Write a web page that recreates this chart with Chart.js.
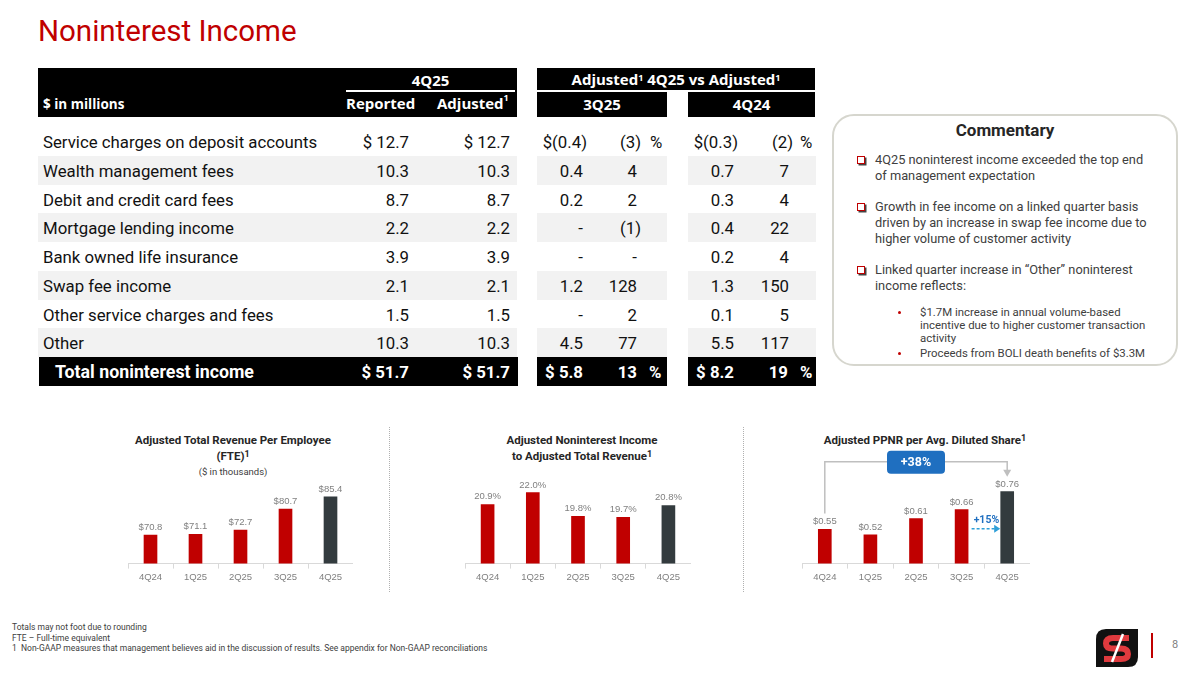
<!DOCTYPE html>
<html>
<head>
<meta charset="utf-8">
<script src="https://cdn.jsdelivr.net/npm/chart.js@4.4.1/dist/chart.umd.min.js"></script>
<style>
  body { margin: 0; background: #fff; }
  #slide { position: relative; width: 1200px; height: 675px; overflow: hidden; font-family: Roboto, "Liberation Sans", sans-serif; color: #111; }
  .abs { position: absolute; }
  .title { left: 38px; top: 14px; font-size: 29.5px; color: #c00000; }
  .hdr { background: #000; color: #fff; font-weight: bold; font-family: "Open Sans", sans-serif; }
  .htxt { position: absolute; color: #fff; font-weight: bold; font-family: "Open Sans", sans-serif; font-size: 15px; white-space: nowrap; }
  .cell { position: absolute; white-space: nowrap; }
  .rowbg { position: absolute; height: 28.75px; }
  sup { font-size: 9px; vertical-align: top; position: relative; top: -2px; }
  .ctitle { position: absolute; text-align: center; font-weight: bold; font-size: 11.5px; color: #262626; line-height: 16px; }
  .sep { position: absolute; top: 427px; height: 165px; border-left: 1.5px dotted #b0b0b0; }
  .cbox { left: 832px; top: 114px; width: 346px; height: 252px; border: 2.5px solid #d6d6ce; border-radius: 22px; box-sizing: border-box; }
  .bul { position: absolute; left: 875px; font-size: 12.8px; color: #404040; line-height: 16px; width: 278px; }
  .sq { position: absolute; left: -18px; top: 4px; width: 6px; height: 6px; border: 1.5px solid #c00000; box-shadow: 1.5px 1.5px 0 #444; background: #fff; }
  .sub { position: absolute; left: 920px; font-size: 11.4px; color: #404040; line-height: 13px; width: 234px; }
  .dot { position: absolute; left: -22px; top: 5px; width: 3px; height: 3px; background: #c00000; border-radius: 50%; }
  .foot { left: 12px; font-size: 8.5px; color: #404040; white-space: nowrap; }
</style>
</head>
<body>
<div id="slide">
  <div class="abs title">Noninterest Income</div>

  <!-- table header -->
  <div class="abs hdr" style="left:38px;top:68px;width:479px;height:49px;"></div>
  <div class="abs" style="left:346px;top:90px;width:169px;height:1.5px;background:#fff;"></div>
  <div class="htxt" style="left:346px;top:70px;width:169px;text-align:center;">4Q25</div>
  <div class="htxt" style="left:43px;top:95px;font-size:13.5px;">$ in millions</div>
  <div class="htxt" style="left:346px;top:93px;">Reported</div>
  <div class="htxt" style="left:437px;top:93px;">Adjusted<sup>1</sup></div>

  <div class="abs hdr" style="left:537px;top:68px;width:278px;height:22px;text-align:center;font-size:15px;line-height:23px;">Adjusted<sup>1</sup> 4Q25 vs Adjusted<sup>1</sup></div>
  <div class="abs hdr" style="left:537px;top:92px;width:130px;height:25px;text-align:center;font-size:15px;line-height:25px;">3Q25</div>
  <div class="abs hdr" style="left:688px;top:92px;width:127px;height:25px;text-align:center;font-size:15px;line-height:25px;">4Q24</div>

  <div id="tbl"></div>

  <!-- commentary -->
  <div class="abs cbox"></div>
  <div class="abs" style="left:832px;top:120px;width:346px;text-align:center;font-weight:bold;font-size:17px;color:#262626;">Commentary</div>
  <div class="bul" style="top:152px;"><span class="sq"></span>4Q25 noninterest income exceeded the top end of management expectation</div>
  <div class="bul" style="top:199px;"><span class="sq"></span>Growth in fee income on a linked quarter basis driven by an increase in swap fee income due to higher volume of customer activity</div>
  <div class="bul" style="top:262px;"><span class="sq"></span>Linked quarter increase in &ldquo;Other&rdquo; noninterest income reflects:</div>
  <div class="sub" style="top:306px;"><span class="dot"></span>$1.7M increase in annual volume-based incentive due to higher customer transaction activity</div>
  <div class="sub" style="top:347px;"><span class="dot"></span>Proceeds from BOLI death benefits of $3.3M</div>

  <!-- chart titles -->
  <div class="ctitle" style="left:100px;top:432px;width:266px;">Adjusted Total Revenue Per Employee<br>(FTE)<sup>1</sup></div>
  <div class="abs" style="left:100px;top:466px;width:266px;text-align:center;font-size:9.5px;color:#404040;">($ in thousands)</div>
  <div class="ctitle" style="left:450px;top:432px;width:264px;">Adjusted Noninterest Income<br>to Adjusted Total Revenue<sup>1</sup></div>
  <div class="ctitle" style="left:797px;top:432px;width:256px;">Adjusted PPNR per Avg. Diluted Share<sup>1</sup></div>

  <div class="sep" style="left:389px;"></div>
  <div class="sep" style="left:743px;"></div>

  <canvas id="chartFte" class="abs" style="left:128px;top:462px;" width="225" height="124"></canvas>
  <canvas id="chartRatio" class="abs" style="left:465px;top:462px;" width="226" height="124"></canvas>
  <canvas id="chartPpnr" class="abs" style="left:802px;top:442px;" width="228" height="144"></canvas>

  <!-- footer -->
  <div class="abs foot" style="top:622px;">Totals may not foot due to rounding</div>
  <div class="abs foot" style="top:633px;">FTE &ndash; Full-time equivalent</div>
  <div class="abs foot" style="top:643px;">1&nbsp;&nbsp;Non-GAAP measures that management believes aid in the discussion of results. See appendix for Non-GAAP reconciliations</div>

  <svg class="abs" style="left:1096px;top:629px;" width="42" height="38" viewBox="0 0 42 38">
    <path d="M10,0 H42 V28 Q42,38 32,38 H0 V10 Q0,0 10,0 Z" fill="#111"/>
    <path d="M33,9 H17 Q10,9 10,14.5 Q10,19.5 17,19.5 H25 Q32,19.5 32,25 Q32,30 25,30 H8" fill="none" stroke="#e03a3e" stroke-width="6"/>
    <path d="M27,5 L16,33" stroke="#fff" stroke-width="2.5"/>
  </svg>
  <div class="abs" style="left:1151px;top:633px;width:2px;height:25px;background:#c00000;"></div>
  <div class="abs" style="left:1172px;top:638px;font-size:11px;color:#7f7f7f;">8</div>
</div>

<script>
// table data ($ in millions)
const rowLabels = [
  "Service charges on deposit accounts",
  "Wealth management fees",
  "Debit and credit card fees",
  "Mortgage lending income",
  "Bank owned life insurance",
  "Swap fee income",
  "Other service charges and fees",
  "Other",
];
const reported = ["$ 12.7", "10.3", "8.7", "2.2", "3.9", "2.1", "1.5", "10.3"];
const adjusted = ["$ 12.7", "10.3", "8.7", "2.2", "3.9", "2.1", "1.5", "10.3"];
const vs3Q25Amt = ["$(0.4)", "0.4", "0.2", "-", "-", "1.2", "-", "4.5"];
const vs3Q25Pct = ["(3)", "4", "2", "(1)", "-", "128", "2", "77"];
const vs4Q24Amt = ["$(0.3)", "0.7", "0.3", "0.4", "0.2", "1.3", "0.1", "5.5"];
const vs4Q24Pct = ["(2)", "7", "4", "22", "4", "150", "5", "117"];
const totalRow = ["Total noninterest income", "$ 51.7", "$ 51.7", "$ 5.8", "13", "$ 8.2", "19"];

// chart data
const quarters = ["4Q24", "1Q25", "2Q25", "3Q25", "4Q25"];
const revenuePerFte = [70.8, 71.1, 72.7, 80.7, 85.4];
const nonintToRevenue = [20.9, 22.0, 19.8, 19.7, 20.8];
const ppnrPerShare = [0.55, 0.52, 0.61, 0.66, 0.76];

const RED = "#c00000";
const DARK = "#333b3e";
const barColors = [RED, RED, RED, RED, DARK];

// ---- table ----
const tbl = document.getElementById("tbl");
const rowTop = 127, rowH = 28.75;
const groups = [[38, 479], [537, 130], [688, 128]];

function addCell(text, rightEdge, top, opts) {
  const d = document.createElement("div");
  d.className = "cell";
  d.textContent = text;
  const paren = text.endsWith(")");
  d.style.right = (1200 - rightEdge - (paren ? 4 : 0)) + "px";
  d.style.top = (top + 1) + "px";
  d.style.lineHeight = rowH + "px";
  d.style.fontSize = "16.8px";
  if (opts && opts.bold) { d.style.fontWeight = "bold"; d.style.color = "#fff"; }
  tbl.appendChild(d);
}
function addLeft(text, left, top, opts) {
  const d = document.createElement("div");
  d.className = "cell";
  d.textContent = text;
  d.style.left = left + "px";
  d.style.top = (top + 1) + "px";
  d.style.lineHeight = rowH + "px";
  d.style.fontSize = (opts && opts.size) || "16.8px";
  if (opts && opts.bold) { d.style.fontWeight = "bold"; d.style.color = "#fff"; }
  tbl.appendChild(d);
}

rowLabels.forEach((label, i) => {
  const top = rowTop + i * rowH;
  if (i % 2 === 1) {
    groups.forEach(g => {
      const bg = document.createElement("div");
      bg.className = "rowbg";
      bg.style.left = g[0] + "px";
      bg.style.width = g[1] + "px";
      bg.style.top = top + "px";
      bg.style.background = "#f2f2f2";
      tbl.appendChild(bg);
    });
  }
  addLeft(label, 43, top);
  addCell(reported[i], 409, top);
  addCell(adjusted[i], 510, top);
  addCell(vs3Q25Amt[i], 583, top);
  addCell(vs3Q25Pct[i], 637, top);
  addCell(vs4Q24Amt[i], 734, top);
  addCell(vs4Q24Pct[i], 789, top);
  if (i === 0) {
    addLeft("%", 650, top);
    addLeft("%", 800, top);
  }
});

const totTop = rowTop + rowLabels.length * rowH;
groups.forEach(g => {
  const bg = document.createElement("div");
  bg.className = "rowbg";
  bg.style.left = (g[0] + (g[0] === 38 ? 1 : 0)) + "px";
  bg.style.width = g[1] + "px";
  bg.style.top = totTop + "px";
  bg.style.background = "#000";
  tbl.appendChild(bg);
});
addLeft(totalRow[0], 55, totTop, {bold: true, size: "17.8px"});
addCell(totalRow[1], 409, totTop, {bold: true});
addCell(totalRow[2], 510, totTop, {bold: true});
addCell(totalRow[3], 583, totTop, {bold: true});
addCell(totalRow[4], 637, totTop, {bold: true});
addLeft("%", 649, totTop, {bold: true});
addCell(totalRow[5], 734, totTop, {bold: true});
addCell(totalRow[6], 788, totTop, {bold: true});
addLeft("%", 800, totTop, {bold: true});

// ---- charts ----
const valueLabels = {
  id: "valueLabels",
  afterDatasetsDraw(chart, args, opts) {
    const ctx = chart.ctx;
    const meta = chart.getDatasetMeta(0);
    const vals = chart.data.datasets[0].data;
    ctx.save();
    ctx.font = '9.5px "Liberation Sans"';
    ctx.fillStyle = "#808080";
    ctx.textAlign = "center";
    ctx.textBaseline = "bottom";
    meta.data.forEach((bar, i) => {
      ctx.fillText(opts.prefix + vals[i].toFixed(opts.digits) + opts.suffix, bar.x, bar.y - 3);
    });
    ctx.restore();
  },
};

function barConfig(values, yMin, yMax, fmt) {
  return {
    type: "bar",
    data: {
      labels: quarters,
      datasets: [{
        data: values,
        backgroundColor: barColors,
        borderWidth: 0,
        barThickness: 13,
      }],
    },
    options: {
      responsive: false,
      animation: false,
      layout: { padding: 0 },
      plugins: {
        legend: { display: false },
        tooltip: { enabled: false },
        valueLabels: fmt,
      },
      scales: {
        x: {
          grid: { offset: true, drawOnChartArea: false, drawTicks: true, tickLength: 5, color: "#d9d9d9" },
          border: { display: true, color: "#d9d9d9" },
          ticks: { padding: 3, color: "#7f7f7f", font: { family: "Liberation Sans", size: 9.5 } },
        },
        y: { display: false, min: yMin, max: yMax },
      },
    },
    plugins: [valueLabels],
  };
}

new Chart(document.getElementById("chartFte"),
  barConfig(revenuePerFte, 60, 98.6, {prefix: "$", suffix: "", digits: 1}));

new Chart(document.getElementById("chartRatio"),
  barConfig(nonintToRevenue, 15.4, 24.85, {prefix: "", suffix: "%", digits: 1}));

// growth callouts on the PPNR chart
const growthCallouts = {
  id: "growthCallouts",
  afterDatasetsDraw(chart) {
    const ctx = chart.ctx;
    const bars = chart.getDatasetMeta(0).data;
    const b0 = bars[0], b3 = bars[3], b4 = bars[4];
    const lineY = b4.y - 30;
    ctx.save();
    // gray bracket 4Q24 -> 4Q25
    ctx.strokeStyle = "#bfbfbf";
    ctx.lineWidth = 1.5;
    ctx.beginPath();
    ctx.moveTo(b0.x, b0.y - 16);
    ctx.lineTo(b0.x, lineY);
    ctx.lineTo(b4.x, lineY);
    ctx.lineTo(b4.x, b4.y - 21);
    ctx.stroke();
    ctx.fillStyle = "#bfbfbf";
    ctx.beginPath();
    ctx.moveTo(b4.x - 4, b4.y - 22);
    ctx.lineTo(b4.x + 4, b4.y - 22);
    ctx.lineTo(b4.x, b4.y - 15);
    ctx.closePath();
    ctx.fill();
    // +38% box
    const cx = (b0.x + b4.x) / 2;
    ctx.fillStyle = "#1f6fc0";
    ctx.beginPath();
    ctx.roundRect(cx - 29, lineY - 11, 58, 23, 4);
    ctx.fill();
    ctx.fillStyle = "#fff";
    ctx.font = 'bold 12.5px Roboto';
    ctx.textAlign = "center";
    ctx.textBaseline = "middle";
    ctx.fillText("+38%", cx, lineY + 1);
    // +15% dashed arrow 3Q25 -> 4Q25
    const ay = (b3.y + b4.y) / 2 + 28;
    ctx.strokeStyle = "#2e9fd8";
    ctx.lineWidth = 1.5;
    ctx.setLineDash([3, 2]);
    ctx.beginPath();
    ctx.moveTo(b3.x + 10, ay);
    ctx.lineTo(b4.x - 12, ay);
    ctx.stroke();
    ctx.setLineDash([]);
    ctx.fillStyle = "#2e9fd8";
    ctx.beginPath();
    ctx.moveTo(b4.x - 13, ay - 4);
    ctx.lineTo(b4.x - 7, ay);
    ctx.lineTo(b4.x - 13, ay + 4);
    ctx.closePath();
    ctx.fill();
    ctx.fillStyle = "#1f6fc0";
    ctx.font = 'bold 10.5px Roboto';
    ctx.textBaseline = "bottom";
    ctx.fillText("+15%", (b3.x + b4.x) / 2 + 2, ay - 3);
    ctx.restore();
  },
};

const ppnrCfg = barConfig(ppnrPerShare, 0.36, 1.036, {prefix: "$", suffix: "", digits: 2});
ppnrCfg.plugins.push(growthCallouts);
new Chart(document.getElementById("chartPpnr"), ppnrCfg);
</script>
</body>
</html>
